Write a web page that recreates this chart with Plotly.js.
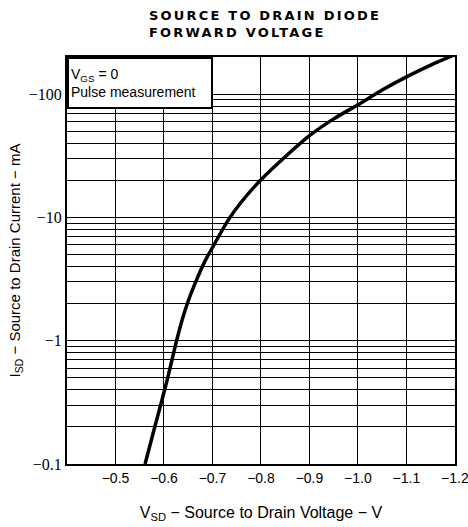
<!DOCTYPE html>
<html><head><meta charset="utf-8">
<script src="https://cdn.plot.ly/plotly-3.0.1.min.js"></script>
<style>html,body{margin:0;padding:0;background:#fff}</style>
</head><body>
<div id="chart" style="width:468px;height:527px"></div>
<script>
// Source-to-drain voltage (V) and |ISD| (mA, drawn with a leading minus sign)
const vsd    = [-0.561, -0.576, -0.591, -0.606, -0.626, -0.638, -0.650, -0.667, -0.683, -0.700, -0.733, -0.760, -0.798, -0.850, -0.900, -0.950, -1.000, -1.050, -1.100, -1.150, -1.195];
const isdMag = [0.10,   0.168,  0.28,   0.47,   1.00,   1.50,   2.10,   3.10,   4.30,   5.70,   9.60,   13.4,   19.8,   31.0,   46.0,   63.0,   82.0,   108,    138,    172,    205];

const xTickVals = [-0.5, -0.6, -0.7, -0.8, -0.9, -1.0, -1.1, -1.2];
const xTickText = ["\u22120.5", "\u22120.6", "\u22120.7", "\u22120.8", "\u22120.9", "\u22121.0", "\u22121.1", "\u22121.2"];
const yDecades = [0.1, 1, 10, 100];
const yDecadeText = ["\u22120.1", "\u22121", "\u221210", "\u2212100"];
const yMantissas = [1, 2, 3, 4, 5, 6, 7, 8, 9];

const titleText = "<span style=\"letter-spacing:2.2px\">SOURCE TO DRAIN DIODE<br>FORWARD VOLTAGE</span>";
const xTitle = "V<sub>SD</sub> \u2212 Source to Drain Voltage \u2212 V";
const yTitle = "I<sub>SD</sub> \u2212 Source to Drain Current \u2212 mA";
const noteText = "V<sub>GS</sub> = 0<br>Pulse measurement";

// grid values on the log axis: every 1..9 step of each decade (up to 100)
const yTickVals = [], yTickText = [];
yDecades.forEach((d, i) => {
  yMantissas.forEach((m, j) => {
    const v = +(d * m).toPrecision(3);
    if (v <= 100.0001) { yTickVals.push(v); yTickText.push(j === 0 ? yDecadeText[i] : ""); }
  });
});

const trace = {
  x: vsd, y: isdMag, type: "scatter", mode: "lines",
  line: {color: "#000", width: 3.5, shape: "spline", smoothing: 0.6},
  hoverinfo: "skip", cliponaxis: true
};

const layout = {
  width: 468, height: 527,
  margin: {l: 67, r: 13, t: 57, b: 63},
  paper_bgcolor: "#fff", plot_bgcolor: "#fff",
  showlegend: false,
  font: {family: "Liberation Sans, Arial, sans-serif", color: "#000", size: 14},
  xaxis: {
    range: [-0.4, -1.2002], tickmode: "array", tickvals: xTickVals, ticktext: xTickText,
    ticklabeloverflow: "allow",
    showgrid: true, gridcolor: "#000", gridwidth: 1, zeroline: false,
    showline: true, mirror: true, linecolor: "#000", linewidth: 2, ticks: "",
    tickfont: {family: "Liberation Sans, Arial, sans-serif", size: 14, color: "#000"},
    title: {text: xTitle, standoff: 22, font: {family: "Liberation Sans, Arial, sans-serif", size: 16, color: "#000"}}
  },
  yaxis: {
    type: "log", range: [-1, Math.log10(200)], tickmode: "array", tickvals: yTickVals, ticktext: yTickText,
    ticklabeloverflow: "allow",
    showgrid: true, gridcolor: "#000", gridwidth: 1, zeroline: false,
    showline: true, mirror: true, linecolor: "#000", linewidth: 2, ticks: "",
    tickfont: {family: "Liberation Serif, Times New Roman, serif", size: 16, color: "#000"},
    title: {text: yTitle, standoff: 5, font: {family: "Liberation Sans, Arial, sans-serif", size: 15, color: "#000"}}
  },
  annotations: [
    {text: titleText, xref: "paper", yref: "paper", x: 0.206, y: 1.125, xanchor: "left", yanchor: "top",
     align: "left", showarrow: false, font: {family: "DejaVu Sans, sans-serif", size: 13, color: "#000", weight: "bold"}},
    {text: noteText, xref: "x", yref: "paper", x: -0.4, y: 1, xanchor: "left", yanchor: "top",
     align: "left", valign: "middle", showarrow: false, width: 138, height: 44, borderpad: 2,
     bgcolor: "#fff", bordercolor: "#000", borderwidth: 2,
     font: {family: "Liberation Sans, Arial, sans-serif", size: 14, color: "#000"}}
  ]
};

Plotly.newPlot("chart", [trace], layout, {staticPlot: true, displayModeBar: false});
</script>
</body></html>
